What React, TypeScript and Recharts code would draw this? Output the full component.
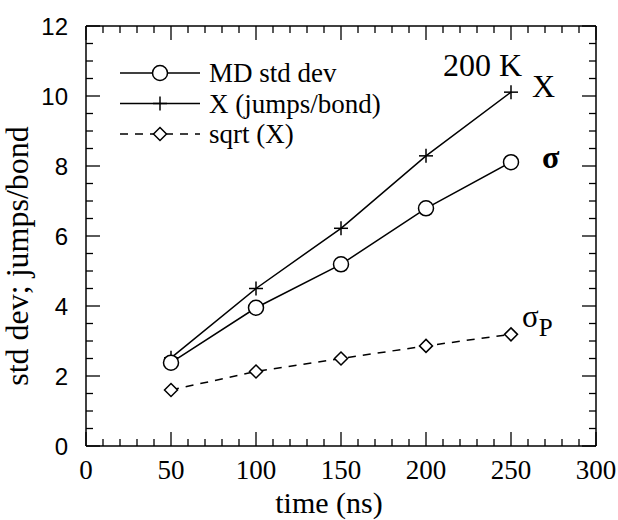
import React from 'react';
import { LineChart, Line, XAxis, YAxis, Legend, ReferenceDot, ReferenceLine, Label } from 'recharts';

const times = [50, 100, 150, 200, 250];
const mdStdDev = [2.38, 3.95, 5.19, 6.79, 8.11];
const jumpsPerBond = [2.52, 4.5, 6.22, 8.29, 10.11];
const sqrtJumps = [1.6, 2.13, 2.5, 2.86, 3.19];

const xMajorTicks = [0, 50, 100, 150, 200, 250, 300];
const xMinorTicks = [10, 20, 30, 40, 60, 70, 80, 90, 110, 120, 130, 140, 160, 170, 180, 190, 210, 220, 230, 240, 260, 270, 280, 290];
const yMajorTicks = [0, 2, 4, 6, 8, 10, 12];
const yMinorTicks = [0.5, 1, 1.5, 2.5, 3, 3.5, 4.5, 5, 5.5, 6.5, 7, 7.5, 8.5, 9, 9.5, 10.5, 11, 11.5];

const seriesNames = ['MD std dev', 'X (jumps/bond)', 'sqrt (X)'];
const tempLabel = '200 K';

const data = times.map((t, i) => ({ t, md: mdStdDev[i], x: jumpsPerBond[i], sq: sqrtJumps[i] }));

const X_MIN = 0;
const X_MAX = 300;
const Y_MIN = 0;
const Y_MAX = 12;

const SERIF = 'Liberation Serif, Times New Roman, serif';
const SANS = 'Liberation Sans, Arial, sans-serif';

// tick lengths expressed in data units (plot: 510px for 300 units, 420px for 12 units)
const PX_PER_X = 510 / (X_MAX - X_MIN);
const PX_PER_Y = 420 / (Y_MAX - Y_MIN);
const MAJOR_PX = 14;
const MINOR_PX = 7;

const CircleDot = (props: any) => {
  const { cx, cy } = props;
  if (cx == null || cy == null) return null;
  return <circle cx={cx} cy={cy} r={7.5} fill="#fff" stroke="#000" strokeWidth={1.5} />;
};

const PlusDot = (props: any) => {
  const { cx, cy } = props;
  if (cx == null || cy == null) return null;
  return (
    <g stroke="#000" strokeWidth={1.5}>
      <line x1={cx - 7} x2={cx + 7} y1={cy} y2={cy} />
      <line x1={cx} x2={cx} y1={cy - 7} y2={cy + 7} />
    </g>
  );
};

const DiamondDot = (props: any) => {
  const { cx, cy } = props;
  if (cx == null || cy == null) return null;
  const d = 6.5;
  return (
    <polygon
      points={`${cx},${cy - d} ${cx + d},${cy} ${cx},${cy + d} ${cx - d},${cy}`}
      fill="#fff"
      stroke="#000"
      strokeWidth={1.5}
    />
  );
};

const LegendContent = () => {
  const rows = [0, 30.5, 61];
  const y0 = 18;
  return (
    <svg width={300} height={100} style={{ display: 'block' }}>
      {seriesNames.map((name, i) => {
        const y = y0 + rows[i];
        return (
          <g key={name}>
            <line x1={10} x2={90} y1={y} y2={y} stroke="#000" strokeWidth={1.5} strokeDasharray={i === 2 ? '8 7' : undefined} />
            {i === 0 && <CircleDot cx={50} cy={y} />}
            {i === 1 && <PlusDot cx={50} cy={y} />}
            {i === 2 && <DiamondDot cx={50} cy={y} />}
            <text x={99} y={y + 9} fontFamily={SERIF} fontSize={27} fill="#000">
              {name}
            </text>
          </g>
        );
      })}
    </svg>
  );
};

const tickSegments = () => {
  const out: any[] = [];
  const seg = (key: string, a: { x: number; y: number }, b: { x: number; y: number }) =>
    out.push(
      <ReferenceLine key={key} segment={[a, b]} stroke="#000" strokeWidth={1.3} ifOverflow="visible" />
    );
  const xTickSet = [
    ...xMajorTicks.map((v) => ({ v, len: MAJOR_PX })),
    ...xMinorTicks.map((v) => ({ v, len: MINOR_PX })),
  ];
  const yTickSet = [
    ...yMajorTicks.map((v) => ({ v, len: MAJOR_PX })),
    ...yMinorTicks.map((v) => ({ v, len: MINOR_PX })),
  ];
  xTickSet.forEach(({ v, len }) => {
    const dy = len / PX_PER_Y;
    seg(`xb-${v}`, { x: v, y: Y_MIN }, { x: v, y: Y_MIN + dy });
    seg(`xt-${v}`, { x: v, y: Y_MAX }, { x: v, y: Y_MAX - dy });
  });
  yTickSet.forEach(({ v, len }) => {
    const dx = len / PX_PER_X;
    seg(`yl-${v}`, { x: X_MIN, y: v }, { x: X_MIN + dx, y: v });
    seg(`yr-${v}`, { x: X_MAX, y: v }, { x: X_MAX - dx, y: v });
  });
  return out;
};

export default function App() {
  return (
    <div style={{ position: 'absolute', left: 0, top: 0, width: 618, height: 520, background: '#fff' }}>
      <LineChart width={618} height={520} data={data} margin={{ top: 26, right: 22, left: 0, bottom: 0 }}>
        <XAxis
          dataKey="t"
          type="number"
          domain={[X_MIN, X_MAX]}
          ticks={xMajorTicks}
          interval={0}
          height={74}
          tickSize={0}
          tickMargin={14}
          tickLine={false}
          axisLine={{ stroke: '#000', strokeWidth: 1.5 }}
          tick={{ fontFamily: SERIF, fontSize: 27, fill: '#000' }}
        >
          <Label
            content={(p: any) => {
              const vb = p.viewBox;
              return (
                <text x={vb.x + vb.width / 2 - 12} y={vb.y + 67} textAnchor="middle" fontFamily={SERIF} fontSize={30} fill="#000">
                  time (ns)
                </text>
              );
            }}
          />
        </XAxis>
        <YAxis
          type="number"
          domain={[Y_MIN, Y_MAX]}
          ticks={yMajorTicks}
          interval={0}
          width={86}
          tickSize={0}
          tickMargin={18}
          tickLine={false}
          axisLine={{ stroke: '#000', strokeWidth: 1.5 }}
          tick={{ fontFamily: SANS, fontSize: 24, fill: '#000' }}
        >
          <Label
            content={(p: any) => {
              const vb = p.viewBox;
              const cx = vb.x + 28;
              const cy = vb.y + vb.height / 2 + 20;
              return (
                <text
                  x={cx}
                  y={cy}
                  transform={`rotate(-90, ${cx}, ${cy})`}
                  textAnchor="middle"
                  fontFamily={SERIF}
                  fontSize={32}
                  fill="#000"
                >
                  std dev; jumps/bond
                </text>
              );
            }}
          />
        </YAxis>
        <ReferenceLine y={Y_MAX} stroke="#000" strokeWidth={1.5} ifOverflow="visible" />
        <ReferenceLine x={X_MAX} stroke="#000" strokeWidth={1.5} ifOverflow="visible" />
        {tickSegments()}
        <Legend
          layout="horizontal"
          verticalAlign="middle"
          align="center"
          content={<LegendContent />}
          wrapperStyle={{ position: 'absolute', left: 110, top: 55, width: 300, height: 100 }}
        />
        <Line
          dataKey="sq"
          stroke="#000"
          strokeWidth={1.5}
          strokeDasharray="8 7"
          dot={<DiamondDot />}
          isAnimationActive={false}
        />
        <Line dataKey="x" stroke="#000" strokeWidth={1.5} dot={<PlusDot />} isAnimationActive={false} />
        <Line dataKey="md" stroke="#000" strokeWidth={1.5} dot={<CircleDot />} isAnimationActive={false} />
        <ReferenceDot
          x={times[4]}
          y={jumpsPerBond[4]}
          r={0}
          stroke="none"
          label={(p: any) => {
            const { x, y } = p.viewBox;
            return (
              <g>
                <text x={x + 11} y={y - 16} textAnchor="end" fontFamily={SERIF} fontSize={32} fill="#000">
                  {tempLabel}
                </text>
                <text x={x + 21} y={y + 5} fontFamily={SERIF} fontSize={32} fill="#000">
                  X
                </text>
              </g>
            );
          }}
        />
        <ReferenceDot
          x={times[4]}
          y={mdStdDev[4]}
          r={0}
          stroke="none"
          label={(p: any) => {
            const { x, y } = p.viewBox;
            return (
              <text x={x + 31} y={y + 6} fontFamily={SERIF} fontSize={32} fontWeight="bold" fill="#000">
                σ
              </text>
            );
          }}
        />
        <ReferenceDot
          x={times[4]}
          y={sqrtJumps[4]}
          r={0}
          stroke="none"
          label={(p: any) => {
            const { x, y } = p.viewBox;
            return (
              <text x={x + 11} y={y - 7} fontFamily={SERIF} fontSize={31} fill="#000">
                σ
                <tspan fontSize={25} dy={9}>
                  P
                </tspan>
              </text>
            );
          }}
        />
      </LineChart>
    </div>
  );
}
